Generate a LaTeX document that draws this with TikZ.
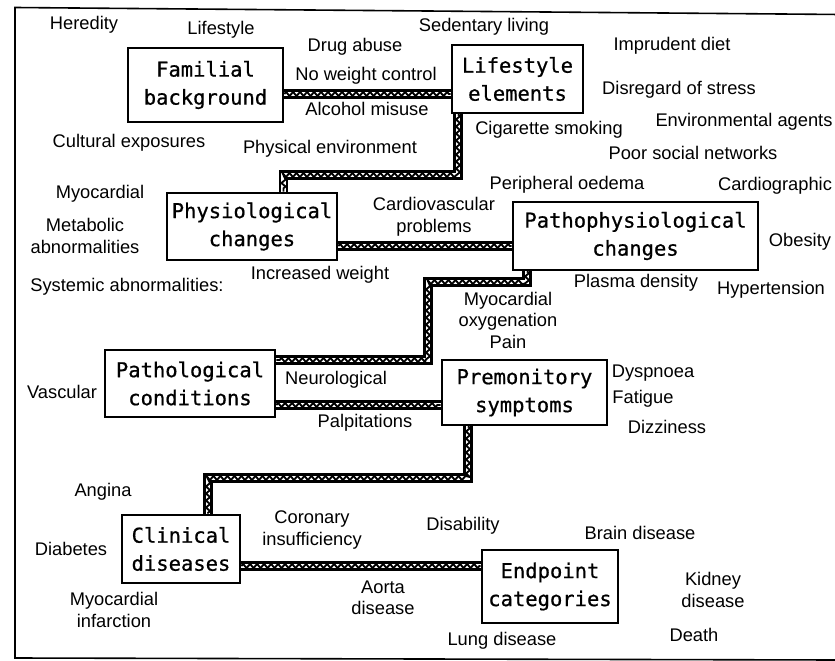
\documentclass[tikz,border=0pt]{standalone}
\usepackage{fontspec}
\setmainfont{Liberation Sans}
\newfontfamily\boxfont[FakeBold=0.7]{DejaVu Sans Mono}
\usetikzlibrary{calc,decorations.pathmorphing}
\tikzset{
  stage/.style={draw, line width=2.6pt, rectangle, inner sep=0pt, align=center,
    font=\boxfont\fontsize{20.5}{28}\selectfont},
  lbl/.style={align=center, inner sep=0pt, font=\fontsize{18.3}{21.5}\selectfont},
  band/.style={draw=white, line width=4.8pt, line join=miter,
    preaction={draw=black, line width=9.4pt, line join=miter},
    postaction={draw=black, line width=1.9pt, line join=round, decorate,
      decoration={zigzag, segment length=7pt, amplitude=2.1pt}}},
}
\begin{document}
\begin{tikzpicture}[x=1pt,y=-1pt]
\useasboundingbox (0,0) rectangle (835,661);
\fill[white] (0,0) rectangle (835,661);
% outer frame, open on the right
\draw[line width=1.6pt] (840,14.5) -- (15,7.5) -- (15,658) -- (840,660);

% stage boxes
\node[stage, minimum width=155pt, minimum height=74pt] (fam)  at (205.5,85)  {Familial\\background};
\node[stage, minimum width=131pt, minimum height=68pt] (life) at (517.5,79)  {Lifestyle\\elements};
\node[stage, minimum width=170pt, minimum height=67pt] (phys) at (252,226.5) {Physiological\\changes};
\node[stage, minimum width=245pt, minimum height=68pt] (path) at (635.5,236) {Pathophysiological\\changes};
\node[stage, minimum width=170pt, minimum height=67pt] (cond) at (190,383.5) {Pathological\\conditions};
\node[stage, minimum width=165pt, minimum height=65pt] (prem) at (524.5,392.5) {Premonitory\\symptoms};
\node[stage, minimum width=118pt, minimum height=68pt] (clin) at (181,549)   {Clinical\\diseases};
\node[stage, minimum width=136pt, minimum height=73pt] (endp) at (550,586.5) {Endpoint\\categories};

% elbow points of the hatched links
\coordinate (f1) at (0,94);
\coordinate (l1) at (458,175);
\coordinate (l2) at (283.5,175);
\coordinate (p1) at (0,246);
\coordinate (q1) at (527,282);
\coordinate (q2) at (428,282);
\coordinate (q3) at (428,360);
\coordinate (c1) at (0,405);
\coordinate (s1) at (468,478);
\coordinate (s2) at (208,478);
\coordinate (e1) at (0,566);

% hatched links between stages
\draw[band] (fam.east |- f1) -- (life.west |- f1);
\draw[band] (life.south -| l1) -- (l1) -- (l2) -- (phys.north -| l2);
\draw[band] (phys.east |- p1) -- (path.west |- p1);
\draw[band] (path.south -| q1) -- (q1) -- (q2) -- (q3) -- (cond.east |- q3);
\draw[band] (cond.east |- c1) -- (prem.west |- c1);
\draw[band] (prem.south -| s1) -- (s1) -- (s2) -- (clin.north -| s2);
\draw[band] (clin.east |- e1) -- (endp.west |- e1);

% factor labels
\node[lbl] (t1)  at (84,25)    {Heredity};
\node[lbl] (t2)  at (221,30)   {Lifestyle};
\node[lbl] (t3)  at (484,27)   {Sedentary living};
\node[lbl] (t4)  at (355,47)   {Drug abuse};
\node[lbl] (t5)  at (672,46)   {Imprudent diet};
\node[lbl] (t6)  at (366,76)   {No weight control};
\node[lbl] (t7)  at (367,109)  {Alcohol misuse};
\node[lbl] (t8)  at (679,90)   {Disregard of stress};
\node[lbl] (t9)  at (129,143)  {Cultural exposures};
\node[lbl] (t10) at (549,130)  {Cigarette smoking};
\node[lbl] (t11) at (744,122)  {Environmental agents};
\node[lbl] (t12) at (330,149)  {Physical environment};
\node[lbl] (t13) at (693,153)  {Poor social networks};
\node[lbl] (t14) at (100,194)  {Myocardial};
\node[lbl] (t15) at (567,185)  {Peripheral oedema};
\node[lbl] (t16) at (775,186)  {Cardiographic};
\node[lbl] (t17) at (85,236)   {Metabolic\\abnormalities};
\node[lbl] (t18) at (434,217)  {Cardiovascular\\problems};
\node[lbl] (t19) at (800,242)  {Obesity};
\node[lbl] (t20) at (320,275)  {Increased weight};
\node[lbl] (t21) at (127,287)  {Systemic abnormalities:};
\node[lbl] (t22) at (636,283)  {Plasma density};
\node[lbl] (t23) at (771,290)  {Hypertension};
\node[lbl] (t24) at (508,320)  {Myocardial\\oxygenation\\Pain};
\node[lbl] (t25) at (62,392)   {Vascular};
\node[lbl] (t26) at (336,380)  {Neurological};
\node[lbl] (t27) at (653,373)  {Dyspnoea};
\node[lbl] (t28) at (643,399)  {Fatigue};
\node[lbl] (t29) at (667,427)  {Dizziness};
\node[lbl] (t30) at (365,423)  {Palpitations};
\node[lbl] (t31) at (103,492)  {Angina};
\node[lbl] (t32) at (312,530)  {Coronary\\insufficiency};
\node[lbl] (t33) at (463,526)  {Disability};
\node[lbl] (t34) at (640,533)  {Brain disease};
\node[lbl] (t35) at (71,549)   {Diabetes};
\node[lbl] (t36) at (713,590)  {Kidney\\disease};
\node[lbl] (t37) at (383,598)  {Aorta\\disease};
\node[lbl] (t38) at (114,610)  {Myocardial\\infarction};
\node[lbl] (t39) at (694,635)  {Death};
\node[lbl] (t40) at (502,641)  {Lung disease};
\end{tikzpicture}
\end{document}
